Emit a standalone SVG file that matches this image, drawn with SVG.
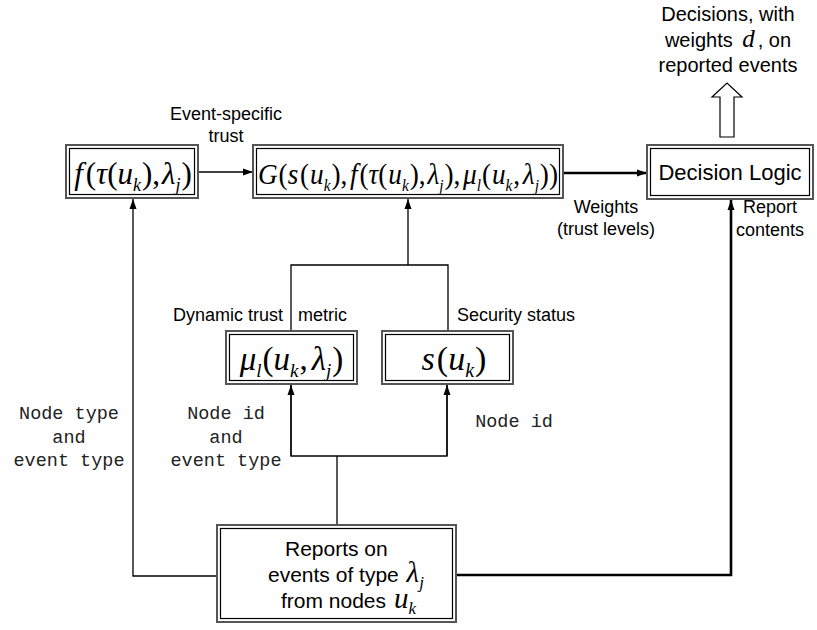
<svg xmlns="http://www.w3.org/2000/svg" width="817" height="630" viewBox="0 0 817 630">
  <defs>
    <marker id="ah" markerUnits="userSpaceOnUse" markerWidth="10" markerHeight="10" viewBox="0 0 10 10" refX="10" refY="5" orient="auto">
      <path d="M0,1.5 L10,5 L0,8.5 Z" fill="#000"/>
    </marker>
    <style>
      .outer { fill: #fff; stroke: #555; stroke-width: 2; }
      .inner { fill: none; stroke: #000; stroke-width: 1.2; }
      .ln { fill: none; stroke: #000; stroke-width: 1.3; }
      .thick { fill: none; stroke: #000; stroke-width: 2.6; }
      .lbl { font-family: "Liberation Sans", Arial, sans-serif; font-size: 18px; fill: #000; }
      .dec { font-family: "Liberation Sans", Arial, sans-serif; font-size: 20px; fill: #000; }
      .big { font-family: "Liberation Sans", Arial, sans-serif; font-size: 21px; fill: #000; }
      .box { font-family: "Liberation Sans", Arial, sans-serif; font-size: 22px; fill: #000; }
      .mono { font-family: "Liberation Mono", "Courier New", monospace; font-size: 18.5px; fill: #222; }
      .m { font-family: "Liberation Serif", "Times New Roman", serif; fill: #000; }
      .i { font-style: italic; }
      .sb { font-style: italic; }
    </style>
  </defs>

  <!-- connectors -->
  <g id="connectors">
    <!-- f -> G -->
    <line class="ln" x1="198" y1="172" x2="253" y2="172" marker-end="url(#ah)"/>
    <!-- G -> Decision Logic (weights) -->
    <line class="thick" x1="563" y1="173" x2="647" y2="173" marker-end="url(#ah)"/>
    <!-- upper tree: metric and status into G -->
    <polyline class="ln" points="291,331 291,265 448,265 448,331"/>
    <line class="ln" x1="408" y1="265" x2="408" y2="199" marker-end="url(#ah)"/>
    <!-- lower tree: reports into metric and status -->
    <line class="ln" x1="337" y1="525" x2="337" y2="456"/>
    <polyline class="ln" points="291,385 291,456 447,456 447,385"/>
    <line class="ln" x1="291" y1="456" x2="291" y2="385" marker-end="url(#ah)"/>
    <line class="ln" x1="447" y1="456" x2="447" y2="385" marker-end="url(#ah)"/>
    <!-- reports -> f (node type and event type) -->
    <polyline class="ln" points="217,576 133,576 133,199" marker-end="url(#ah)"/>
    <!-- reports -> Decision Logic (report contents) -->
    <polyline class="thick" points="456,575 731,575 731,200" marker-end="url(#ah)"/>
    <!-- decisions output -->
    <polygon points="720,137 734,137 734,97 742,97 727,83 712,97 720,97" fill="#fff" stroke="#000" stroke-width="1.2"/>
  </g>

  <!-- event-specific trust function -->
  <g id="node-f">
    <rect class="outer" x="66" y="145" width="132" height="53"/>
    <rect class="inner" x="69.5" y="148.5" width="125" height="46"/>
    <text class="m" font-size="31" x="133" y="184" text-anchor="middle"><tspan class="i">f</tspan><tspan dx="3">(</tspan><tspan class="i">τ</tspan>(<tspan class="i">u</tspan><tspan class="sb" font-size="18" dy="7">k</tspan><tspan dy="-7" dx="1">),</tspan><tspan class="i" dx="2">λ</tspan><tspan class="sb" font-size="18" dy="7">j</tspan><tspan dy="-7" dx="1">)</tspan></text>
  </g>

  <!-- combined trust function -->
  <g id="node-g">
    <rect class="outer" x="253" y="145" width="310" height="53"/>
    <rect class="inner" x="256.5" y="148.5" width="303" height="46"/>
    <text class="m" font-size="30" x="258" y="184" textLength="300" lengthAdjust="spacingAndGlyphs"><tspan class="i">G</tspan><tspan dx="1">(</tspan><tspan class="i">s</tspan><tspan dx="2">(</tspan><tspan class="i" dx="1">u</tspan><tspan class="sb" font-size="17" dy="7">k</tspan><tspan dy="-7" dx="1">),</tspan><tspan class="i" dx="3">f</tspan><tspan dx="2">(</tspan><tspan class="i">τ</tspan>(<tspan class="i" dx="1">u</tspan><tspan class="sb" font-size="17" dy="7">k</tspan><tspan dy="-7" dx="1">),</tspan><tspan class="i" dx="2">λ</tspan><tspan class="sb" font-size="17" dy="7">j</tspan><tspan dy="-7" dx="1">),</tspan><tspan class="i" dx="3">μ</tspan><tspan class="sb" font-size="17" dy="7">l</tspan><tspan dy="-7" dx="1">(</tspan><tspan class="i" dx="1">u</tspan><tspan class="sb" font-size="17" dy="7">k</tspan><tspan dy="-7" dx="1">,</tspan><tspan class="i" dx="3">λ</tspan><tspan class="sb" font-size="17" dy="7">j</tspan><tspan dy="-7" dx="1">))</tspan></text>
  </g>

  <!-- decision logic -->
  <g id="node-decision">
    <rect class="outer" x="647" y="145" width="166" height="54"/>
    <rect class="inner" x="650.5" y="148.5" width="159" height="47"/>
    <text class="box" x="730" y="180" text-anchor="middle">Decision Logic</text>
  </g>

  <!-- dynamic trust metric -->
  <g id="node-mu">
    <rect class="outer" x="226" y="331" width="131" height="53"/>
    <rect class="inner" x="229.5" y="334.5" width="124" height="46"/>
    <text class="m" font-size="33" x="291.5" y="370" text-anchor="middle"><tspan class="i">μ</tspan><tspan class="sb" font-size="19" dy="7">l</tspan><tspan dy="-7" dx="1">(</tspan><tspan class="i">u</tspan><tspan class="sb" font-size="19" dy="7">k</tspan><tspan dy="-7" dx="1">,</tspan><tspan class="i" dx="4">λ</tspan><tspan class="sb" font-size="19" dy="7">j</tspan><tspan dy="-7" dx="1">)</tspan></text>
  </g>

  <!-- security status -->
  <g id="node-s">
    <rect class="outer" x="382" y="331" width="131" height="53"/>
    <rect class="inner" x="385.5" y="334.5" width="124" height="46"/>
    <text class="m" font-size="34" x="454" y="370" text-anchor="middle"><tspan class="i">s</tspan><tspan dx="2">(</tspan><tspan class="i">u</tspan><tspan class="sb" font-size="20" dy="7">k</tspan><tspan dy="-7" dx="1">)</tspan></text>
  </g>

  <!-- event reports -->
  <g id="node-reports">
    <rect class="outer" x="217" y="525" width="239" height="97"/>
    <rect class="inner" x="220.5" y="528.5" width="232" height="90"/>
    <text class="big" x="285" y="556">Reports on</text>
    <text class="big" x="268" y="582">events of type <tspan class="m i" font-size="29" dx="2">λ</tspan><tspan class="m i" font-size="17" dy="6">j</tspan></text>
    <text class="big" x="281" y="608">from nodes <tspan class="m i" font-size="29" dx="2">u</tspan><tspan class="m i" font-size="17" dy="6">k</tspan></text>
  </g>

  <!-- connector labels -->
  <g id="labels">
    <text class="lbl" x="226" y="120" text-anchor="middle">Event-specific</text>
    <text class="lbl" x="226" y="142" text-anchor="middle">trust</text>
    <text class="dec" x="728" y="21" text-anchor="middle">Decisions, with</text>
    <text class="dec" x="728" y="47" text-anchor="middle">weights <tspan class="m i" font-size="25" dx="4">d</tspan><tspan dx="3">, on</tspan></text>
    <text class="dec" x="728" y="72" text-anchor="middle">reported events</text>
    <text class="lbl" x="606" y="213" text-anchor="middle">Weights</text>
    <text class="lbl" x="606" y="235" text-anchor="middle">(trust levels)</text>
    <text class="lbl" x="770" y="213" text-anchor="middle">Report</text>
    <text class="lbl" x="770" y="236" text-anchor="middle">contents</text>
    <text class="lbl" x="283" y="321" text-anchor="end">Dynamic trust</text>
    <text class="lbl" x="298" y="321">metric</text>
    <text class="lbl" x="457" y="321">Security status</text>
    <text class="mono" x="69" y="419" text-anchor="middle">Node type</text>
    <text class="mono" x="69" y="443" text-anchor="middle">and</text>
    <text class="mono" x="69" y="466" text-anchor="middle">event type</text>
    <text class="mono" x="226" y="419" text-anchor="middle">Node id</text>
    <text class="mono" x="226" y="443" text-anchor="middle">and</text>
    <text class="mono" x="226" y="466" text-anchor="middle">event type</text>
    <text class="mono" x="514" y="427" text-anchor="middle">Node id</text>
  </g>
</svg>
